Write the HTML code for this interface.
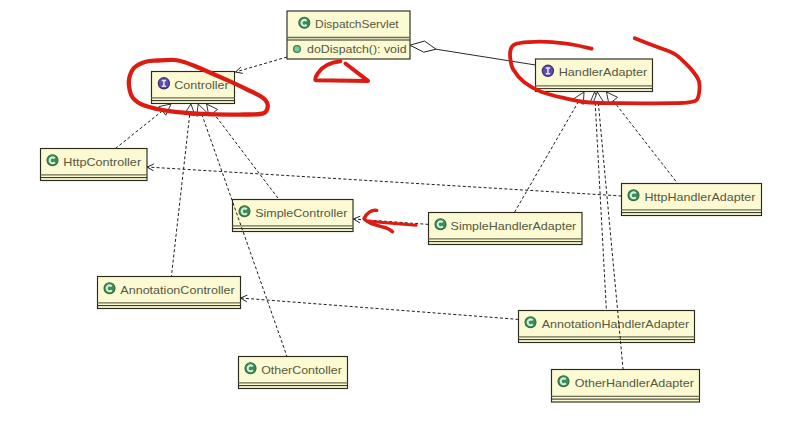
<!DOCTYPE html>
<html><head><meta charset="utf-8"><style>
html,body{margin:0;padding:0;background:#ffffff;}
body{width:810px;height:428px;overflow:hidden;position:relative;}
svg{position:absolute;left:0;top:0;}
text{font-family:"Liberation Sans",sans-serif;font-size:11.4px;fill:#575740;}
</style></head><body>
<svg width="810" height="428" viewBox="0 0 810 428">
<rect x="287" y="11" width="123" height="48" fill="#fbfad3" stroke="#2c2c1e" stroke-width="1.15"/><line x1="287" y1="37.5" x2="410" y2="37.5" stroke="#6e6e52" stroke-width="1.4"/><line x1="287" y1="40" x2="410" y2="40" stroke="#2c2c1e" stroke-width="1"/><circle cx="304.3" cy="22.8" r="5.5" fill="#3f8a58" stroke="#2d6a40" stroke-width="1.1"/><path d="M306.6,20.900000000000002 A2.9,2.9 0 1 0 306.6,24.7" fill="none" stroke="#cdf3da" stroke-width="2.1"/><text x="315.10" y="28.3" textLength="83.50" lengthAdjust="spacingAndGlyphs">DispatchServlet</text><circle cx="297" cy="49" r="3.4" fill="#7cc79a" stroke="#3d8150" stroke-width="1.3"/><text x="307.10" y="52.8" textLength="99.50" lengthAdjust="spacingAndGlyphs">doDispatch(): void</text><rect x="151.5" y="71.5" width="83.0" height="32.0" fill="#fbfad3" stroke="#2c2c1e" stroke-width="1.15"/><line x1="151.5" y1="97.9" x2="234.5" y2="97.9" stroke="#6e6e52" stroke-width="1.4"/><line x1="151.5" y1="100.6" x2="234.5" y2="100.6" stroke="#2c2c1e" stroke-width="1"/><circle cx="163.9" cy="83.3" r="5.6" fill="#5b50a6" stroke="#3a3278" stroke-width="1.2"/><path d="M161.70000000000002,80.39999999999999 H166.1 M163.9,80.39999999999999 V86.2 M161.70000000000002,86.2 H166.1" stroke="#e8e2ff" stroke-width="1.5" fill="none"/><text x="174.30" y="88.8" textLength="54.30" lengthAdjust="spacingAndGlyphs">Controller</text><rect x="535.5" y="59" width="117.0" height="32.5" fill="#fbfad3" stroke="#2c2c1e" stroke-width="1.15"/><line x1="535.5" y1="85.9" x2="652.5" y2="85.9" stroke="#6e6e52" stroke-width="1.4"/><line x1="535.5" y1="88.6" x2="652.5" y2="88.6" stroke="#2c2c1e" stroke-width="1"/><circle cx="547.9" cy="70.8" r="5.6" fill="#5b50a6" stroke="#3a3278" stroke-width="1.2"/><path d="M545.6999999999999,67.89999999999999 H550.1 M547.9,67.89999999999999 V73.7 M545.6999999999999,73.7 H550.1" stroke="#e8e2ff" stroke-width="1.5" fill="none"/><text x="558.70" y="76.3" textLength="88.60" lengthAdjust="spacingAndGlyphs">HandlerAdapter</text><rect x="40.5" y="148.5" width="106.5" height="32.0" fill="#fbfad3" stroke="#2c2c1e" stroke-width="1.15"/><line x1="40.5" y1="174.9" x2="147" y2="174.9" stroke="#6e6e52" stroke-width="1.4"/><line x1="40.5" y1="177.6" x2="147" y2="177.6" stroke="#2c2c1e" stroke-width="1"/><circle cx="52.5" cy="160.3" r="5.5" fill="#3f8a58" stroke="#2d6a40" stroke-width="1.1"/><path d="M54.8,158.4 A2.9,2.9 0 1 0 54.8,162.20000000000002" fill="none" stroke="#cdf3da" stroke-width="2.1"/><text x="63.30" y="165.8" textLength="77.80" lengthAdjust="spacingAndGlyphs">HttpController</text><rect x="232.5" y="199.5" width="120.5" height="32.0" fill="#fbfad3" stroke="#2c2c1e" stroke-width="1.15"/><line x1="232.5" y1="225.9" x2="353" y2="225.9" stroke="#6e6e52" stroke-width="1.4"/><line x1="232.5" y1="228.6" x2="353" y2="228.6" stroke="#2c2c1e" stroke-width="1"/><circle cx="244.5" cy="211.3" r="5.5" fill="#3f8a58" stroke="#2d6a40" stroke-width="1.1"/><path d="M246.8,209.4 A2.9,2.9 0 1 0 246.8,213.20000000000002" fill="none" stroke="#cdf3da" stroke-width="2.1"/><text x="255.20" y="216.8" textLength="92.20" lengthAdjust="spacingAndGlyphs">SimpleController</text><rect x="428.5" y="212.5" width="153.5" height="32.0" fill="#fbfad3" stroke="#2c2c1e" stroke-width="1.15"/><line x1="428.5" y1="238.9" x2="582" y2="238.9" stroke="#6e6e52" stroke-width="1.4"/><line x1="428.5" y1="241.6" x2="582" y2="241.6" stroke="#2c2c1e" stroke-width="1"/><circle cx="440.5" cy="224.3" r="5.5" fill="#3f8a58" stroke="#2d6a40" stroke-width="1.1"/><path d="M442.8,222.4 A2.9,2.9 0 1 0 442.8,226.20000000000002" fill="none" stroke="#cdf3da" stroke-width="2.1"/><text x="450.60" y="229.8" textLength="125.70" lengthAdjust="spacingAndGlyphs">SimpleHandlerAdapter</text><rect x="621.5" y="183.5" width="140.0" height="32.0" fill="#fbfad3" stroke="#2c2c1e" stroke-width="1.15"/><line x1="621.5" y1="209.9" x2="761.5" y2="209.9" stroke="#6e6e52" stroke-width="1.4"/><line x1="621.5" y1="212.6" x2="761.5" y2="212.6" stroke="#2c2c1e" stroke-width="1"/><circle cx="633.5" cy="195.3" r="5.5" fill="#3f8a58" stroke="#2d6a40" stroke-width="1.1"/><path d="M635.8,193.4 A2.9,2.9 0 1 0 635.8,197.20000000000002" fill="none" stroke="#cdf3da" stroke-width="2.1"/><text x="644.40" y="200.8" textLength="111.00" lengthAdjust="spacingAndGlyphs">HttpHandlerAdapter</text><rect x="97.5" y="276.5" width="143.0" height="32.0" fill="#fbfad3" stroke="#2c2c1e" stroke-width="1.15"/><line x1="97.5" y1="302.9" x2="240.5" y2="302.9" stroke="#6e6e52" stroke-width="1.4"/><line x1="97.5" y1="305.6" x2="240.5" y2="305.6" stroke="#2c2c1e" stroke-width="1"/><circle cx="109.5" cy="288.3" r="5.5" fill="#3f8a58" stroke="#2d6a40" stroke-width="1.1"/><path d="M111.8,286.40000000000003 A2.9,2.9 0 1 0 111.8,290.2" fill="none" stroke="#cdf3da" stroke-width="2.1"/><text x="120.30" y="293.8" textLength="114.50" lengthAdjust="spacingAndGlyphs">AnnotationController</text><rect x="518.5" y="310.5" width="176.0" height="32.0" fill="#fbfad3" stroke="#2c2c1e" stroke-width="1.15"/><line x1="518.5" y1="336.9" x2="694.5" y2="336.9" stroke="#6e6e52" stroke-width="1.4"/><line x1="518.5" y1="339.6" x2="694.5" y2="339.6" stroke="#2c2c1e" stroke-width="1"/><circle cx="530.5" cy="322.3" r="5.5" fill="#3f8a58" stroke="#2d6a40" stroke-width="1.1"/><path d="M532.8,320.40000000000003 A2.9,2.9 0 1 0 532.8,324.2" fill="none" stroke="#cdf3da" stroke-width="2.1"/><text x="541.70" y="327.8" textLength="147.50" lengthAdjust="spacingAndGlyphs">AnnotationHandlerAdapter</text><rect x="551.5" y="369.5" width="148.0" height="32.5" fill="#fbfad3" stroke="#2c2c1e" stroke-width="1.15"/><line x1="551.5" y1="396.4" x2="699.5" y2="396.4" stroke="#6e6e52" stroke-width="1.4"/><line x1="551.5" y1="399.1" x2="699.5" y2="399.1" stroke="#2c2c1e" stroke-width="1"/><circle cx="563.5" cy="381.3" r="5.5" fill="#3f8a58" stroke="#2d6a40" stroke-width="1.1"/><path d="M565.8,379.40000000000003 A2.9,2.9 0 1 0 565.8,383.2" fill="none" stroke="#cdf3da" stroke-width="2.1"/><text x="574.70" y="386.8" textLength="119.20" lengthAdjust="spacingAndGlyphs">OtherHandlerAdapter</text><rect x="238.5" y="356.5" width="109.0" height="32.0" fill="#fbfad3" stroke="#2c2c1e" stroke-width="1.15"/><line x1="238.5" y1="382.9" x2="347.5" y2="382.9" stroke="#6e6e52" stroke-width="1.4"/><line x1="238.5" y1="385.6" x2="347.5" y2="385.6" stroke="#2c2c1e" stroke-width="1"/><circle cx="250.5" cy="368.3" r="5.5" fill="#3f8a58" stroke="#2d6a40" stroke-width="1.1"/><path d="M252.8,366.40000000000003 A2.9,2.9 0 1 0 252.8,370.2" fill="none" stroke="#cdf3da" stroke-width="2.1"/><text x="261.20" y="373.8" textLength="80.60" lengthAdjust="spacingAndGlyphs">OtherContoller</text>
<line x1="287" y1="57" x2="235.5" y2="72" stroke="#1e1e1e" stroke-width="1" stroke-dasharray="3 2.2" fill="none"/><path d="M242.9,73.4 L235.5,72 L241.0,66.9" fill="none" stroke="#222" stroke-width="1"/><line x1="621.5" y1="196" x2="147" y2="167" stroke="#1e1e1e" stroke-width="1" stroke-dasharray="3 2.2" fill="none"/><path d="M153.5,170.8 L147,167 L153.9,164.0" fill="none" stroke="#222" stroke-width="1"/><line x1="428.5" y1="224.4" x2="353.5" y2="219" stroke="#1e1e1e" stroke-width="1" stroke-dasharray="3 2.2" fill="none"/><path d="M359.9,222.9 L353.5,219 L360.4,216.1" fill="none" stroke="#222" stroke-width="1"/><line x1="518.5" y1="319.4" x2="240.5" y2="298" stroke="#1e1e1e" stroke-width="1" stroke-dasharray="3 2.2" fill="none"/><path d="M246.9,301.9 L240.5,298 L247.4,295.1" fill="none" stroke="#222" stroke-width="1"/><path d="M410,45.2 L424.5,41 L436,49.2 L423.7,52.2 Z" fill="#fff" stroke="#222" stroke-width="1"/><line x1="436" y1="49.2" x2="535.5" y2="65" stroke="#2a2a2a" stroke-width="1"/><line x1="162.4119502424414" y1="110.87352903257838" x2="115.4" y2="148.5" stroke="#1e1e1e" stroke-width="1" stroke-dasharray="3 2.2" fill="none"/><path d="M171,104 L159.0,106.6 L165.8,115.2 Z" fill="#fff" stroke="#333" stroke-width="1"/><line x1="189.6643914916753" y1="114.93038295825703" x2="171.4" y2="276.5" stroke="#1e1e1e" stroke-width="1" stroke-dasharray="3 2.2" fill="none"/><path d="M190.9,104 L184.2,114.3 L195.1,115.5 Z" fill="#fff" stroke="#333" stroke-width="1"/><line x1="201.84941068998938" y1="114.37698422547663" x2="287" y2="356.5" stroke="#1e1e1e" stroke-width="1" stroke-dasharray="3 2.2" fill="none"/><path d="M198.2,104 L196.7,116.2 L207.0,112.6 Z" fill="#fff" stroke="#333" stroke-width="1"/><line x1="213.24543843527567" y1="112.76573716255288" x2="279" y2="199.5" stroke="#1e1e1e" stroke-width="1" stroke-dasharray="3 2.2" fill="none"/><path d="M206.6,104 L208.9,116.1 L217.6,109.4 Z" fill="#fff" stroke="#333" stroke-width="1"/><line x1="578.4982634538646" y1="101.52527663519118" x2="514.4" y2="212.5" stroke="#1e1e1e" stroke-width="1" stroke-dasharray="3 2.2" fill="none"/><path d="M584,92 L573.7,98.8 L583.3,104.3 Z" fill="#fff" stroke="#333" stroke-width="1"/><line x1="595.1931859612944" y1="102.98399428328891" x2="606.4" y2="310.5" stroke="#1e1e1e" stroke-width="1" stroke-dasharray="3 2.2" fill="none"/><path d="M594.6,92 L589.7,103.3 L600.7,102.7 Z" fill="#fff" stroke="#333" stroke-width="1"/><line x1="598.3183110456739" y1="102.95276415405073" x2="623.1" y2="369.5" stroke="#1e1e1e" stroke-width="1" stroke-dasharray="3 2.2" fill="none"/><path d="M597.3,92 L592.8,103.5 L603.8,102.4 Z" fill="#fff" stroke="#333" stroke-width="1"/><line x1="613.2494028762967" y1="100.68594041042405" x2="677.6" y2="183.5" stroke="#1e1e1e" stroke-width="1" stroke-dasharray="3 2.2" fill="none"/><path d="M606.5,92 L608.9,104.1 L617.6,97.3 Z" fill="#fff" stroke="#333" stroke-width="1"/>

<path d="M173.3,59.9 C169.0,59.6 162.6,60.2 158.0,60.5 C153.4,60.8 149.6,60.6 145.7,61.8 C141.8,63.0 137.2,65.0 134.5,67.5 C131.8,70.0 130.4,73.6 129.5,77.0 C128.6,80.4 128.7,84.5 129.3,88.0 C129.9,91.5 130.6,95.1 133.0,98.0 C135.4,100.9 137.6,103.1 143.7,105.3 C149.8,107.5 158.5,109.7 169.4,111.2 C180.3,112.7 196.3,113.7 208.9,114.2 C221.5,114.8 236.5,114.5 245.0,114.5 C253.5,114.5 256.5,114.5 260.0,114.0 C263.5,113.5 265.0,113.0 266.2,111.2 C267.4,109.4 268.1,105.5 267.2,103.0 C266.3,100.5 264.5,98.8 261.0,96.5 C257.5,94.2 251.1,91.5 246.0,89.0 C240.9,86.5 238.4,85.1 230.6,81.6 C222.8,78.1 206.8,71.1 199.0,67.8 C191.2,64.5 188.3,63.3 184.0,62.0 C179.7,60.7 177.6,60.1 173.3,59.9 Z" fill="none" stroke="#dc1c12" stroke-linecap="round" stroke-linejoin="round" stroke-width="4.3"/>
<path d="M591.6,48.7 C588.8,48.1 581.3,46.1 574.8,45.0 C568.2,43.9 560.1,42.6 552.3,42.1 C544.5,41.6 534.2,41.7 528.0,42.1 C521.8,42.5 517.9,43.1 515.0,44.3 C512.1,45.4 511.6,46.8 510.8,49.0 C510.0,51.2 509.8,54.1 510.2,57.5 C510.6,60.9 510.8,65.2 513.1,69.3 C515.5,73.4 519.6,78.6 524.3,82.3 C529.0,86.0 534.2,89.0 541.1,91.7 C548.0,94.4 558.2,96.7 565.4,98.4 C572.6,100.1 578.3,101.2 584.1,102.0 C589.9,102.8 594.0,102.8 600.0,103.0 C606.0,103.2 612.5,103.1 620.0,103.2 C627.5,103.3 636.3,103.4 645.0,103.4 C653.7,103.4 665.2,103.3 672.0,103.2 C678.8,103.1 682.0,103.0 686.0,102.6 C690.0,102.1 693.8,102.0 696.0,100.5 C698.2,99.0 698.5,96.7 699.0,93.5 C699.5,90.3 699.8,84.9 699.0,81.5 C698.2,78.1 696.6,76.1 694.2,73.0 C691.9,69.9 688.3,66.0 684.9,62.7 C681.5,59.4 678.3,56.0 673.6,53.4 C668.9,50.8 663.3,49.3 656.8,46.8 C650.3,44.3 638.5,39.7 634.8,38.3" fill="none" stroke="#dc1c12" stroke-linecap="round" stroke-linejoin="round" stroke-width="3.8"/>
<path d="M340.4,61.3 C330,62.5 322,67 318,73 C316,76 314.5,78 315.5,80.2 L368,80.9 L345.5,63.5" fill="none" stroke="#dc1c12" stroke-linecap="round" stroke-linejoin="round" stroke-width="4"/>
<path d="M376.7,210.4 C372,209.5 367,213 364,218.5 C366,222 372,224 385.6,227.7 C389,229 391,230.5 392.5,231.6" fill="none" stroke="#dc1c12" stroke-linecap="round" stroke-linejoin="round" stroke-width="3.5"/>
<path d="M367.8,221.2 L416.2,225.2" fill="none" stroke="#dc1c12" stroke-linecap="round" stroke-linejoin="round" stroke-width="3"/>

</svg>
</body></html>
